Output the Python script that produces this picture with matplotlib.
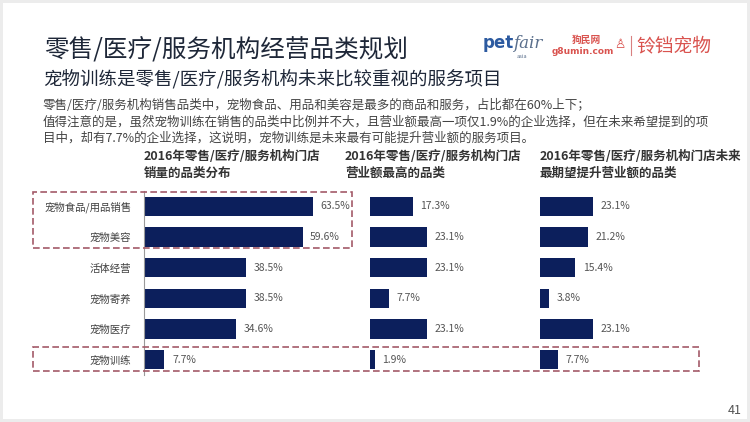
import matplotlib
matplotlib.use("Agg")
import matplotlib.pyplot as plt
from matplotlib.patches import Rectangle
from matplotlib.lines import Line2D

plt.rcParams['font.family'] = ['Noto Sans CJK SC', 'DejaVu Sans']

categories = ['宠物食品/用品销售', '宠物美容', '活体经营', '宠物寄养', '宠物医疗', '宠物训练']
sales_share = [63.5, 59.6, 38.5, 38.5, 34.6, 7.7]
revenue_top = [17.3, 23.1, 23.1, 7.7, 23.1, 1.9]
future_hope = [23.1, 21.2, 15.4, 3.8, 23.1, 7.7]

panel_titles = ['2016年零售/医疗/服务机构门店\n销量的品类分布',
                '2016年零售/医疗/服务机构门店\n营业额最高的品类',
                '2016年零售/医疗/服务机构门店未来\n最期望提升营业额的品类']

title = '零售/医疗/服务机构经营品类规划'
subtitle = '宠物训练是零售/医疗/服务机构未来比较重视的服务项目'
body = ('零售/医疗/服务机构销售品类中，宠物食品、用品和美容是最多的商品和服务，占比都在60%上下；\n'
        '值得注意的是，虽然宠物训练在销售的品类中比例并不大，且营业额最高一项仅1.9%的企业选择，但在未来希望提到的项\n'
        '目中，却有7.7%的企业选择，这说明，宠物训练是未来最有可能提升营业额的服务项目。')

W, H = 750, 422
BAR = '#0c1f5c'
RED = '#d9534f'

fig = plt.figure(figsize=(W / 100, H / 100), dpi=100)
fig.patch.set_facecolor('#ececec')


def fx(x):
    return x / W


def fy(y):
    return 1 - y / H


# white slide
fig.add_artist(Rectangle((fx(3), fy(419)), fx(744), 416 / H, transform=fig.transFigure,
                         facecolor='white', edgecolor='none', zorder=0))

# titles
fig.text(fx(44), fy(50), title, fontsize=17.7, color='#1e2738', va='center', ha='left')
fig.text(fx(43), fy(80), subtitle, fontsize=13.3, color='#1e2738', va='center', ha='left')
fig.text(fx(43), fy(122), body, fontsize=9, color='#444444', va='center', ha='left',
         linespacing=1.35)

# logos
fig.text(fx(483), fy(43), 'pet', fontsize=12, color='#2c5aa0', fontweight='bold',
         va='center', ha='left', family='DejaVu Sans')
fig.text(fx(513), fy(43), 'fair', fontsize=12, color='#5a6f8c', style='italic',
         va='center', ha='left', family='DejaVu Serif')
fig.text(fx(517), fy(56), 'asia', fontsize=4, color='#5a6f8c', va='center', ha='left')
fig.text(fx(572), fy(40), '狗民网', fontsize=7, color=RED, fontweight='bold', va='center', ha='left')
fig.text(fx(552), fy(51), 'g8umin.com', fontsize=6.5, color=RED, fontweight='bold',
         va='center', ha='left', family='DejaVu Sans')
fig.text(fx(614), fy(45), '♙', fontsize=9, color=RED, va='center', ha='left', family='DejaVu Sans')
fig.add_artist(Line2D([fx(631), fx(631)], [fy(36), fy(55)], transform=fig.transFigure,
                      color='#d98080', lw=0.8))
fig.text(fx(636), fy(46), '铃铛宠物', fontsize=13.5, color=RED, va='center', ha='left')

# panels: left px, px per percent, axis span
panels = [(144, 2.66, 80, sales_share), (370, 2.46, 60, revenue_top), (540, 2.28, 60, future_hope)]
header_x = [144, 345, 540]
top, bottom = 191, 375

for i, (left, scale, xmax, vals) in enumerate(panels):
    ax = fig.add_axes([fx(left), fy(bottom), fx(scale * xmax), (bottom - top) / H])
    y = list(range(len(categories)))
    ax.barh(y, vals, height=0.62, color=BAR)
    ax.set_xlim(0, xmax)
    ax.set_ylim(len(categories) - 0.5, -0.5)
    for s in ax.spines.values():
        s.set_visible(False)
    ax.set_xticks([])
    if i == 0:
        ax.spines['left'].set_visible(True)
        ax.spines['left'].set_color('#9a9a9a')
        ax.spines['left'].set_linewidth(0.8)
        ax.set_yticks(y)
        ax.set_yticklabels(categories, fontsize=7.5, color='#404040')
        ax.tick_params(axis='y', length=0, pad=9)
    else:
        ax.set_yticks([])
    for yy, v in zip(y, vals):
        ax.annotate(f'{v}%', (v, yy), xytext=(5.5, 0), textcoords='offset points',
                    va='center', ha='left', fontsize=7.5, color='#555555')
    fig.text(fx(header_x[i]), fy(165), panel_titles[i], fontsize=9, fontweight='bold',
             color='#333333', va='center', ha='left', linespacing=1.35)

# dashed highlight boxes
box_style = dict(transform=fig.transFigure, facecolor='none', edgecolor='#a35a68',
                 linewidth=1.2, linestyle=(0, (4, 2)), zorder=5)
fig.add_artist(Rectangle((fx(33), fy(248)), fx(352 - 33), (248 - 192) / H, **box_style))
fig.add_artist(Rectangle((fx(33), fy(371)), fx(699 - 33), (371 - 347) / H, **box_style))

fig.text(fx(735), fy(410), '41', fontsize=9, color='#555555', va='center', ha='center')

fig.savefig('out.png', dpi=100)
